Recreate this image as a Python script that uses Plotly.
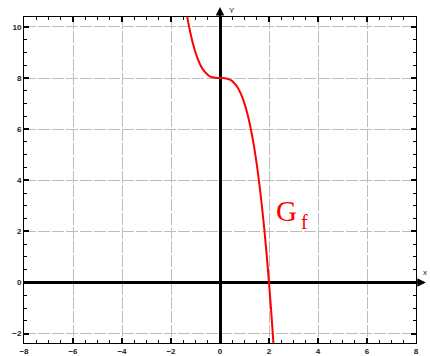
import plotly.graph_objects as go

# Values (curve G_f)
x_vals = [-1.4, -1.3, -1.2, -1.1, -1.0, -0.9, -0.8, -0.7, -0.6, -0.5, -0.4, -0.3, -0.2, -0.1,
          0.0, 0.1, 0.2, 0.3, 0.4, 0.5, 0.6, 0.7, 0.8, 0.9, 1.0, 1.1, 1.2, 1.3, 1.4, 1.5,
          1.6, 1.7, 1.8, 1.9, 2.0, 2.1, 2.2]
y_vals = [10.74, 10.20, 9.73, 9.33, 9.00, 8.73, 8.51, 8.34, 8.22, 8.13, 8.06, 8.03, 8.01, 8.00,
          8.00, 8.00, 7.99, 7.97, 7.94, 7.88, 7.78, 7.66, 7.49, 7.27, 7.00, 6.67, 6.27, 5.80, 5.26, 4.63,
          3.90, 3.09, 2.17, 1.14, 0.00, -1.26, -2.65]
x_range = [-8, 8]
y_range = [-2.37, 10.39]
major_step = 2
minor_step = 0.5

fig = go.Figure()
fig.add_trace(go.Scatter(x=x_vals, y=y_vals, mode="lines",
                         line=dict(color="#ff0000", width=2, shape="spline"),
                         hoverinfo="skip", showlegend=False))

tickfont = dict(family="Liberation Sans, Arial, sans-serif", size=8, color="#222222", weight="bold")
common = dict(showline=True, linecolor="black", linewidth=1, mirror="allticks",
              ticks="inside", ticklen=5, tickwidth=2, tickcolor="black",
              tickmode="linear", tick0=0, dtick=major_step,
              showgrid=True, gridcolor="#bdbdbd", gridwidth=1, griddash="12px,2px",
              zeroline=True, zerolinecolor="black", zerolinewidth=2.5,
              tickfont=tickfont, fixedrange=True, automargin=False,
              minor=dict(tickmode="linear", tick0=0, dtick=minor_step, ticks="inside", ticklen=3,
                         tickwidth=1, tickcolor="black", showgrid=False))

fig.update_xaxes(range=x_range, **common)
fig.update_yaxes(range=y_range, **common)

# Axis arrows
fig.add_annotation(x=0, y=1.031, xref="x", yref="paper", ax=0, ay=16, axref="pixel", ayref="pixel",
                   showarrow=True, arrowhead=2, arrowsize=0.85, arrowwidth=2, arrowcolor="black", text="")
fig.add_annotation(x=1.025, y=0, xref="paper", yref="y", ax=-16, ay=0,
                   showarrow=True, arrowhead=2, arrowsize=0.85, arrowwidth=2, arrowcolor="black", text="")
fig.add_annotation(x=0.3, y=1.02, xref="x", yref="paper", text="Y", showarrow=False,
                   xanchor="left", yanchor="middle",
                   font=dict(family="Liberation Sans, Arial", size=8, color="#222222"))
fig.add_annotation(x=1.012, y=0.38, xref="paper", yref="y", text="x", showarrow=False,
                   xanchor="left", yanchor="middle",
                   font=dict(family="Liberation Sans, Arial", size=8, color="#222222"))

# Curve label G_f
fig.add_annotation(x=2.22, y=2.78, xref="x", yref="y", text="G", showarrow=False,
                   xanchor="left", yanchor="middle",
                   font=dict(family="Liberation Serif, Times New Roman, serif", size=29, color="#ff0000"))
fig.add_annotation(x=3.22, y=2.35, xref="x", yref="y", text="f", showarrow=False,
                   xanchor="left", yanchor="middle",
                   font=dict(family="Liberation Serif, Times New Roman, serif", size=20, color="#ff0000"))

fig.update_layout(width=430, height=356, autosize=False,
                  margin=dict(l=24, r=14, t=17, b=13),
                  paper_bgcolor="white", plot_bgcolor="white")

fig.write_html("out.html", config={"displayModeBar": False},
               post_script="document.body.style.margin='0';document.body.style.overflow='hidden';")
